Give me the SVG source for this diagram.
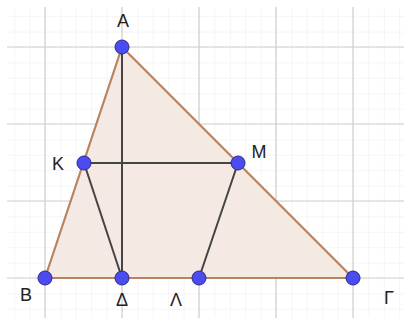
<svg xmlns="http://www.w3.org/2000/svg" width="404" height="325" viewBox="0 0 404 325">
<defs>
<pattern id="minor" x="45" y="47" width="15.4" height="15.4" patternUnits="userSpaceOnUse">
<path d="M0 0V15.4M0 0H15.4" fill="none" stroke="#ebebeb" stroke-width="1"/>
</pattern>
<style>
.major{stroke:#cfcfcf;stroke-width:1.2;fill:none}
.tri{fill:#f5e9e3;stroke:#b9835f;stroke-width:2.2;stroke-linejoin:round}
.seg{stroke:#444;stroke-width:2;fill:none}
.pt{fill:#4a4cf0;stroke:#2a2a8a;stroke-width:1}
.lbl{font-family:"Liberation Sans",Arial,sans-serif;font-size:18px;fill:#222;text-anchor:middle}
</style>
</defs>
<rect x="0" y="0" width="404" height="325" fill="#fff"/>
<rect x="7" y="7" width="397" height="311" fill="url(#minor)"/>
<g id="grid">
<path class="major" d="M45 7V318M122 7V318M199 7V318M276 7V318M353 7V318M7 47H404M7 124H404M7 201H404M7 278H404"/>
</g>
<g id="triangle">
<polygon class="tri" points="122,47 45,278 353,278"/>
</g>
<g id="connectors">
<line class="seg" x1="122" y1="47" x2="122" y2="278"/>
<line class="seg" x1="84" y1="163" x2="238" y2="163"/>
<line class="seg" x1="84" y1="163" x2="122" y2="278"/>
<line class="seg" x1="238" y1="163" x2="199" y2="278"/>
</g>
<g id="A"><circle class="pt" cx="122" cy="47" r="7"/><text class="lbl" x="123" y="27">A</text></g>
<g id="K"><circle class="pt" cx="84" cy="163" r="7"/><text class="lbl" x="58" y="170">K</text></g>
<g id="M"><circle class="pt" cx="238" cy="163" r="7"/><text class="lbl" x="259" y="158">M</text></g>
<g id="B"><circle class="pt" cx="45" cy="278" r="7"/><text class="lbl" x="26" y="301">B</text></g>
<g id="D"><circle class="pt" cx="122" cy="278" r="7"/><text class="lbl" x="122" y="306">Δ</text></g>
<g id="L"><circle class="pt" cx="199" cy="278" r="7"/><text class="lbl" x="176" y="306">Λ</text></g>
<g id="G"><circle class="pt" cx="353" cy="278" r="7"/><text class="lbl" x="389" y="304">Γ</text></g>
</svg>
